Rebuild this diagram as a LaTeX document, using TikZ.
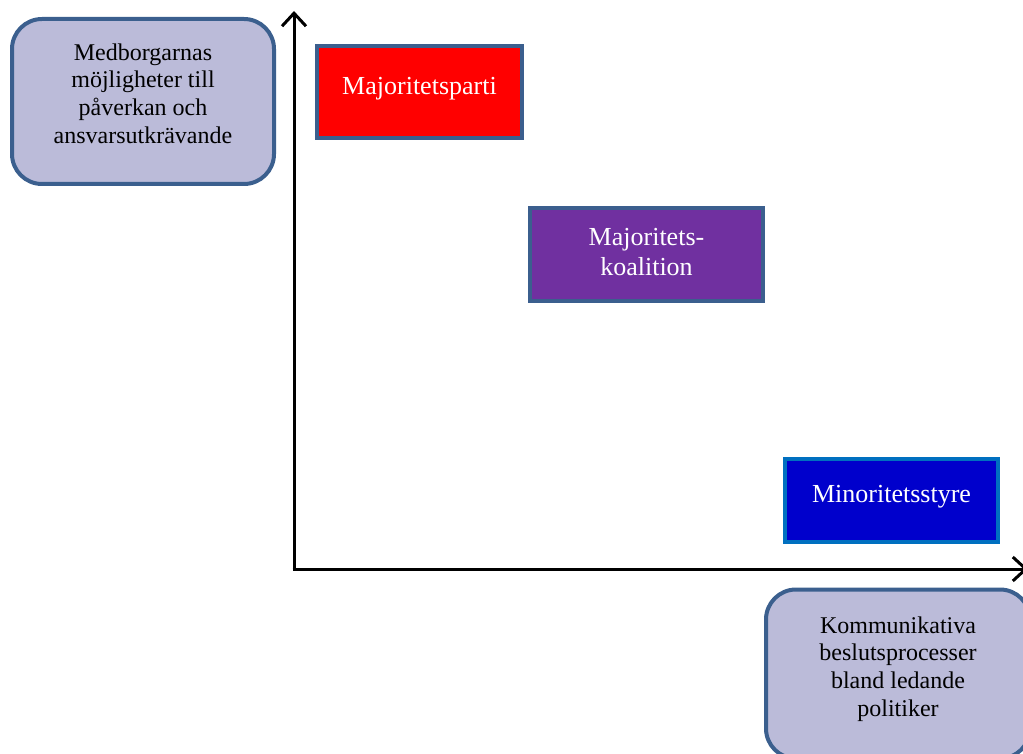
\documentclass[tikz,border=0pt]{standalone}
\usepackage{fontspec}
\setmainfont{Liberation Serif}
\usetikzlibrary{arrows.meta}
\definecolor{edgeblue}{HTML}{3B5F8E}
\definecolor{lav}{HTML}{BBBBD9}
\definecolor{purp}{HTML}{7030A0}
\definecolor{deepblue}{HTML}{0000CC}
\definecolor{lightedge}{HTML}{0070C0}
\tikzset{
  labelbox/.style={draw=edgeblue, line width=4pt, fill=lav, rounded corners=30pt, inner sep=0pt},
  labeltext/.style={align=center, text=black, inner sep=0pt, font=\fontsize{24}{27.6}\selectfont},
  catbox/.style={draw=edgeblue, line width=4pt, inner sep=0pt},
  cattext/.style={align=center, text=white, inner sep=0pt, font=\fontsize{26}{30}\selectfont},
  axis/.style={line width=3pt, -{Straight Barb[length=13pt,width=24pt]}}
}
\begin{document}
\begin{tikzpicture}[x=1pt,y=-1pt]
\useasboundingbox (0,0) rectangle (1023,754);
\clip (0,0) rectangle (1023,754);
\node[labelbox, minimum width=262pt, minimum height=165pt] (yl) at (143,101.5) {};
\node[labeltext] (ylt) at ([yshift=8pt]yl.center)
  {Medborgarnas\\möjligheter till\\påverkan och\\ansvarsutkrävande};
\node[labelbox, minimum width=264pt, minimum height=169pt] (xl) at (898,674) {};
\node[labeltext] (xlt) at ([yshift=5pt]xl.center)
  {Kommunikativa\\beslutsprocesser\\bland ledande\\politiker};
\node[catbox, fill=red, minimum width=205pt, minimum height=92pt] (mp) at (419.5,92) {};
\node[cattext] (mpt) at ([yshift=3pt]mp.center) {Majoritetsparti};
\node[catbox, fill=purp, minimum width=233pt, minimum height=93pt] (mk) at (646.5,254.5) {};
\node[cattext] (mkt) at ([yshift=2pt]mk.center) {Majoritets-\\koalition};
\node[catbox, fill=deepblue, draw=lightedge, minimum width=213pt, minimum height=83pt] (ms) at (891.5,500.5) {};
\node[cattext] (mst) at ([yshift=4pt]ms.center) {Minoritetsstyre};
\coordinate (O) at (294,569);
\coordinate (ytop) at (294,11);
\coordinate (xend) at (1028,569);
\draw[axis] (O) -- (ytop);
\draw[axis] ([xshift=-1.5pt]O) -- (xend);
\end{tikzpicture}
\end{document}
